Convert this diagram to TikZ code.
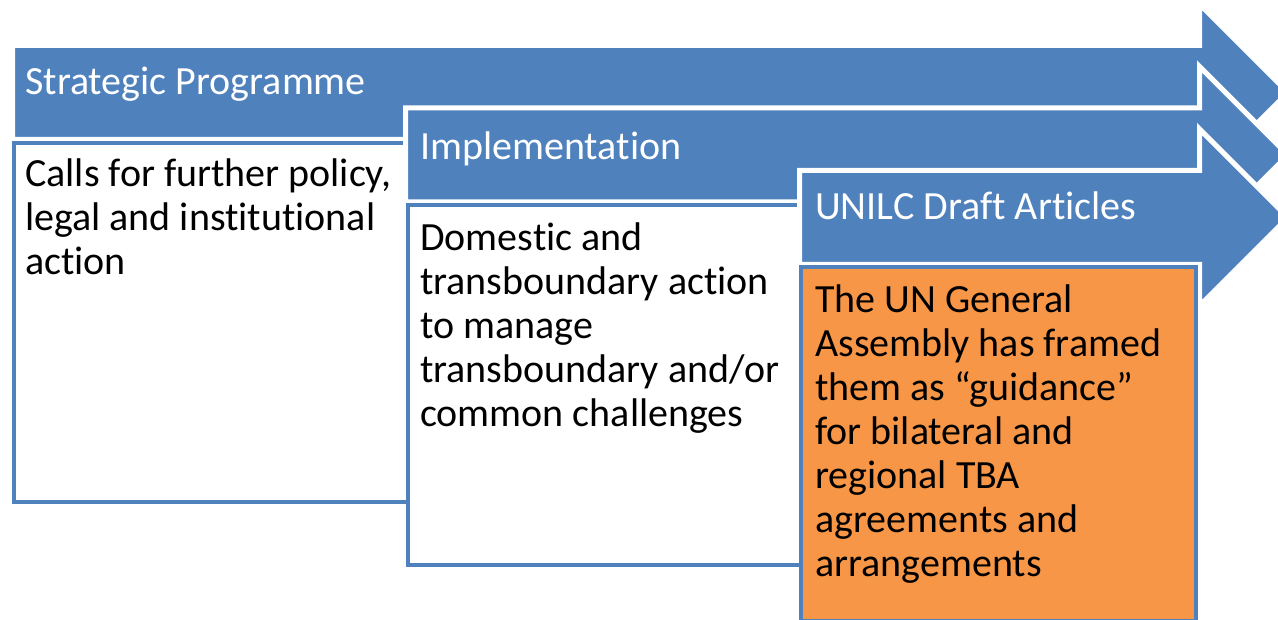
\documentclass[tikz,border=0pt]{standalone}
\usepackage{fontspec}
\setmainfont[Ligatures=NoCommon]{Carlito}
\definecolor{arrowblue}{HTML}{4F81BD}
\definecolor{notebox}{HTML}{F79646}
\tikzset{
  flowarrow/.style={fill=arrowblue, draw=white, line width=3.75pt, line join=miter},
  stagebox/.style={draw=arrowblue, line width=3pt},
  headtext/.style={anchor=base west, inner sep=0pt, text=white, font=\fontsize{30}{36}\selectfont},
  bodytext/.style={anchor=base west, inner sep=0pt, align=left, font=\fontsize{30}{33}\selectfont}
}
\begin{document}
\begin{tikzpicture}[x=0.75pt, y=-0.75pt]
\useasboundingbox (0,0) rectangle (1278,620);
\clip (0,0) rectangle (1278,620);

% Strategic Programme
\draw[flowarrow] (12.5,45.5)--(1199.5,45.5)--(1199.5,4)--(1288,92.5)--(1199.5,181)--(1199.5,139.5)--(12.5,139.5)--cycle;
\draw[stagebox, fill=white] (14,143) rectangle (409,501.5);
\node[headtext] (strat) at (25,95) {Strategic Programme};
% base anchor sits on the last line
\node[bodytext] (calls) at (25,275) {Calls for further policy,\\legal and institutional\\action};

% Implementation
\draw[flowarrow] (405.5,108)--(1199.5,108)--(1199.5,66.5)--(1288,155)--(1199.5,243.5)--(1199.5,202)--(405.5,202)--cycle;
\draw[stagebox, fill=white] (407.5,205.5) rectangle (802.5,564.5);
\node[headtext] (impl) at (420,160) {Implementation};
\node[bodytext] (domestic) at (420,426) {Domestic and\\transboundary action\\to manage\\transboundary and/or\\common challenges};

% UNILC Draft Articles
\draw[flowarrow] (799.5,170.5)--(1199.5,170.5)--(1199.5,129)--(1288,217.5)--(1199.5,306)--(1199.5,264.5)--(799.5,264.5)--cycle;
\draw[stagebox, fill=notebox] (800.5,267.5) rectangle (1195.5,620.5);
\node[headtext] (unilc) at (815,220) {UNILC Draft Articles};
\node[bodytext] (assembly) at (815,576) {The UN General\\Assembly has framed\\them as “guidance”\\for bilateral and\\regional TBA\\agreements and\\arrangements};

\end{tikzpicture}
\end{document}
